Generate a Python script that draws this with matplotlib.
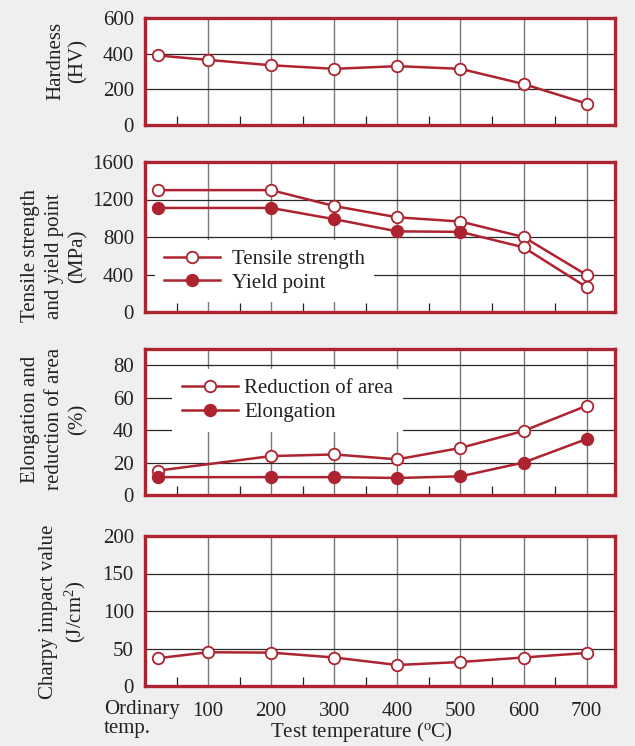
import matplotlib
matplotlib.use('Agg')
import matplotlib.pyplot as plt

plt.rcParams['font.family'] = ['Liberation Serif', 'DejaVu Serif']
plt.rcParams['mathtext.fontset'] = 'custom'
plt.rcParams['mathtext.rm'] = 'Liberation Serif'
plt.rcParams['mathtext.it'] = 'Liberation Serif:italic'

# data (ordinary temp. placed at ~20 C)
temps_all = [20, 100, 200, 300, 400, 500, 600, 700]
temps_no100 = [20, 200, 300, 400, 500, 600, 700]
hardness = [390, 365, 335, 315, 330, 315, 230, 120]
tensile = [1300, 1300, 1130, 1010, 965, 800, 395]
yield_pt = [1110, 1110, 990, 860, 855, 690, 265]
reduction = [15, 24, 25, 22, 29, 39.5, 55]
elongation = [11, 11, 11, 10.5, 11.5, 20, 34.5]
charpy = [37, 45, 44.5, 38, 28, 32, 38, 44]
xtick_vals = [100, 200, 300, 400, 500, 600, 700]

RED = '#ad2430'
BG = '#efefef'
TXT = '#222222'
FS = 15

fig = plt.figure(figsize=(6.35, 7.46), dpi=100, facecolor=BG)

L = 145 / 635
W = 470 / 635
def box(top, bot):
    return [L, 1 - bot / 746, W, (bot - top) / 746]

ax1 = fig.add_axes(box(18, 125))
ax2 = fig.add_axes(box(162, 312))
ax3 = fig.add_axes(box(349, 495))
ax4 = fig.add_axes(box(536, 686))


def style(ax, ymax, yticks, bottom=False):
    ax.set_xlim(0, 745)
    ax.set_ylim(0, ymax)
    ax.set_yticks(yticks)
    ax.set_xticks(xtick_vals)
    ax.set_xticks(range(50, 700, 100), minor=True)
    ax.tick_params(axis='x', which='major', length=0, pad=11.5, labelsize=FS, labelcolor=TXT)
    ax.tick_params(axis='x', which='minor', direction='in', length=6.5, width=0.9, color=TXT)
    ax.tick_params(axis='y', length=0, pad=8, labelsize=FS, labelcolor=TXT)
    if not bottom:
        ax.set_xticklabels([])
    for x in xtick_vals:
        ax.axvline(x, color='#7c7878', lw=1.0, zorder=1)
    for y in yticks:
        if 0 < y < ymax:
            ax.axhline(y, color='#2a2a2a', lw=0.9, zorder=1)
    for s in ax.spines.values():
        s.set_color(RED)
        s.set_linewidth(2.4)
        s.set_zorder(5)
    ax.set_facecolor('white')


line_kw = dict(color=RED, lw=1.8, markersize=8.3, markeredgewidth=1.3, zorder=3)
open_kw = dict(marker='o', mfc='white', mec=RED)
fill_kw = dict(marker='o', mfc=RED, mec=RED)
leg_kw = dict(loc='upper left', borderaxespad=0, borderpad=0.45, handlelength=2.7,
              labelspacing=0.2, fontsize=FS, frameon=True, fancybox=False,
              facecolor='white', edgecolor='none', framealpha=1, labelcolor=TXT)

# Hardness
style(ax1, 600, [0, 200, 400, 600])
ax1.plot(temps_all, hardness, **open_kw, **line_kw)

# Tensile strength / yield point
style(ax2, 1600, [0, 400, 800, 1200, 1600])
h_t, = ax2.plot(temps_no100, tensile, **open_kw, **line_kw, label='Tensile strength')
h_y, = ax2.plot(temps_no100, yield_pt, markevery=[0, 1, 2, 3, 4], **fill_kw, **line_kw,
                label='Yield point')
ax2.plot(temps_no100[5:], yield_pt[5:], ls='none', **open_kw, **line_kw)
leg = ax2.legend(handles=[h_t, h_y], bbox_to_anchor=(0.021, 0.48), handletextpad=0.55, **leg_kw)
leg.set_zorder(10)

# Elongation / reduction of area
style(ax3, 90, [0, 20, 40, 60, 80])
h_r, = ax3.plot(temps_no100, reduction, **open_kw, **line_kw, label='Reduction of area')
h_e, = ax3.plot(temps_no100, elongation, **fill_kw, **line_kw, label='Elongation')
leg = ax3.legend(handles=[h_r, h_e], bbox_to_anchor=(0.058, 0.86), handletextpad=0.3, **leg_kw)
leg.set_zorder(10)

# Charpy
style(ax4, 200, [0, 50, 100, 150, 200], bottom=True)
ax4.plot(temps_all, charpy, **open_kw, **line_kw)

# y labels
ylab_kw = dict(rotation=90, ha='right', va='center', multialignment='center',
               fontsize=FS, color=TXT)
fig.text(88 / 635, 1 - 61 / 746, 'Hardness\n(HV)', linespacing=1.25, **ylab_kw)
fig.text(88 / 635, 1 - 256 / 746, 'Tensile strength\nand yield point\n(MPa)',
         linespacing=1.35, **ylab_kw)
fig.text(88 / 635, 1 - 419 / 746, 'Elongation and\nreduction of area\n(%)',
         linespacing=1.35, **ylab_kw)
fig.text(88 / 635, 1 - 612 / 746, 'Charpy impact value\n(J/cm$^2$)', linespacing=1.25, **ylab_kw)

# bottom labels
fig.text(104 / 635, 1 - 714 / 746, 'Ordinary', ha='left', va='baseline', fontsize=FS, color=TXT)
fig.text(104 / 635, 1 - 733 / 746, 'temp.', ha='left', va='baseline', fontsize=FS, color=TXT)
fig.text(361 / 635, 1 - 737 / 746, r'Test temperature ($^{\rm o}$C)', ha='center', va='baseline',
         fontsize=FS, color=TXT)

fig.savefig('out.png', dpi=100, facecolor=BG)
